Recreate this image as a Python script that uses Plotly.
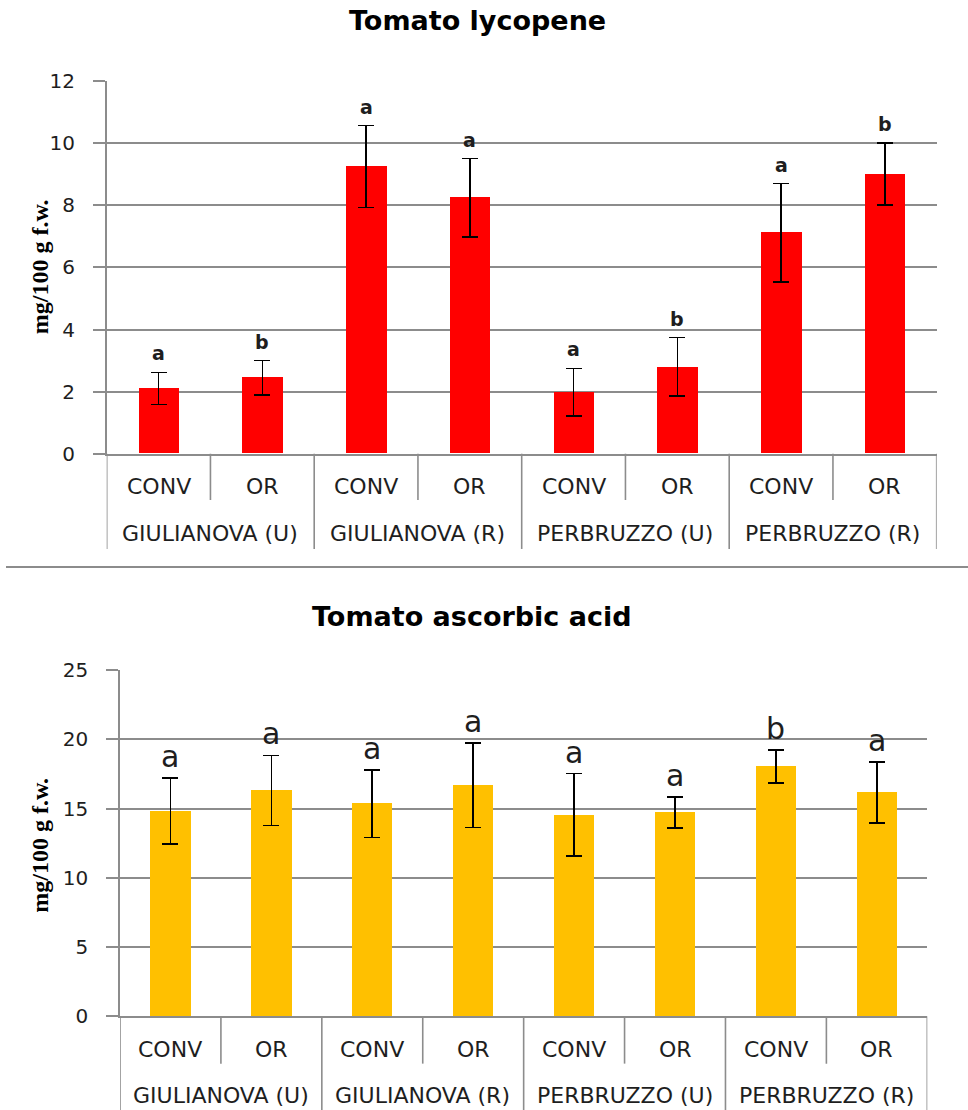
import plotly.graph_objects as go

W, H = 968, 1110

groups = ["GIULIANOVA (U)", "GIULIANOVA (R)", "PERBRUZZO (U)", "PERBRUZZO (R)"]
treatments = ["CONV", "OR"]

lyc_mean = [2.10, 2.45, 9.25, 8.25, 1.98, 2.80, 7.12, 9.01]
lyc_err = [0.52, 0.55, 1.32, 1.26, 0.77, 0.94, 1.58, 1.00]
lyc_letters = ["a", "b", "a", "a", "a", "b", "a", "b"]

asc_mean = [14.84, 16.31, 15.37, 16.70, 14.55, 14.72, 18.04, 16.16]
asc_err = [2.38, 2.53, 2.44, 3.05, 2.98, 1.12, 1.18, 2.20]
asc_letters = ["a", "a", "a", "a", "a", "a", "b", "a"]

cats = [f"{g}|{t}" for g in groups for t in treatments]

GRID = "#8c8c8c"
TXT = "#1e1e1e"
TICKFONT = dict(family="DejaVu Sans", size=20, color=TXT)
CATFONT = dict(family="DejaVu Sans", size=22, color=TXT)

# the page photograph maps layout pixel p to about 11.7 + 0.979 * p vertically
Y_OFF, Y_SCALE = 11.7, 0.979


def py(px):
    lp = (px - Y_OFF) / Y_SCALE
    return 1 - lp / H


panels = [
    dict(title="Tomato lycopene", title_x=477, title_y=20, mean=lyc_mean, err=lyc_err, letters=lyc_letters,
         color="#FF0000", left=106.7, right=936.7, top=81, bottom=453.7, yr=[0, 12], dtick=2,
         letter_font=dict(family="DejaVu Sans", size=19, color=TXT, weight="bold"), lshift=6,
         inner_end=500, outer_end=549, inner_lab=487, outer_lab=534, bw=0.39, ax="", ytitle=267),
    dict(title="Tomato ascorbic acid", title_x=472, title_y=617, mean=asc_mean, err=asc_err, letters=asc_letters,
         color="#FFC000", left=120, right=927.3, top=670.3, bottom=1016.7, yr=[0, 25], dtick=5,
         letter_font=dict(family="DejaVu Sans", size=30, color=TXT), lshift=2,
         inner_end=1064, outer_end=1112, inner_lab=1050, outer_lab=1096, bw=0.40, ax="2", ytitle=846),
]

fig = go.Figure()
annotations = []
shapes = []

for p in panels:
    xa = "x" + p["ax"]
    ya = "y" + p["ax"]
    fig.add_trace(go.Bar(
        x=cats, y=p["mean"], width=p["bw"], marker=dict(color=p["color"], line=dict(width=0)),
        error_y=dict(type="data", array=p["err"], color="black", thickness=1.6, width=8),
        xaxis=xa, yaxis=ya, showlegend=False, hoverinfo="skip",
    ))
    xdom = [p["left"] / W, p["right"] / W]
    ydom = [py(p["bottom"]), py(p["top"])]
    fig.update_layout(**{
        "xaxis" + p["ax"]: dict(domain=xdom, anchor=ya, type="category", categoryorder="array",
                                categoryarray=cats, range=[-0.5, len(cats) - 0.5],
                                showticklabels=False, ticks="", showgrid=False, zeroline=False,
                                showline=True, linecolor=GRID, linewidth=1.6, fixedrange=True),
        "yaxis" + p["ax"]: dict(domain=ydom, anchor=xa, range=p["yr"], dtick=p["dtick"],
                                showgrid=True, gridcolor=GRID, gridwidth=1.6, zeroline=False,
                                showline=True, linecolor=GRID, linewidth=1.6,
                                ticks="outside", ticklen=12, tickcolor=GRID, tickwidth=1.6,
                                tickfont=TICKFONT, ticklabelstandoff=14, fixedrange=True),
    })
    # significance letters
    for c, m, e, l in zip(cats, p["mean"], p["err"], p["letters"]):
        annotations.append(dict(x=c, y=m + e, xref=xa, yref=ya, text=l, showarrow=False,
                                yanchor="bottom", yshift=p["lshift"], font=p["letter_font"]))
    # category labels and separators
    n = len(cats)
    for i, t in enumerate(treatments * len(groups)):
        annotations.append(dict(x=i, y=py(p["inner_lab"]), xref=xa, yref="paper", text=t,
                                showarrow=False, xanchor="center", yanchor="middle", font=CATFONT))
    for gi, g in enumerate(groups):
        annotations.append(dict(x=gi * 2 + 0.5, y=py(p["outer_lab"]), xref=xa, yref="paper", text=g,
                                showarrow=False, xanchor="center", yanchor="middle", font=CATFONT))
    for b in range(n + 1):
        xb = b - 0.5
        end = p["outer_end"] if b % 2 == 0 else p["inner_end"]
        shapes.append(dict(type="line", xref=xa, yref="paper", x0=xb, x1=xb,
                           y0=py(p["bottom"]), y1=py(end), line=dict(color=GRID, width=1.6)))
    # y axis title
    annotations.append(dict(x=40 / W, y=py(p["ytitle"]), xref="paper", yref="paper",
                            xanchor="center", yanchor="middle",
                            text="<b>mg/100 g f.w.</b>", textangle=-90, showarrow=False,
                            font=dict(family="Liberation Serif", size=24, color="black")))
    # chart title
    annotations.append(dict(x=p["title_x"] / W, y=py(p["title_y"]), xref="paper",
                            yref="paper", text="<b>" + p["title"] + "</b>", showarrow=False,
                            xanchor="center", yanchor="middle",
                            font=dict(family="DejaVu Sans", size=27, color="black")))

# separator between the two charts
shapes.append(dict(type="line", xref="paper", yref="paper", x0=6 / W, x1=1, y0=py(567), y1=py(567),
                   line=dict(color=GRID, width=2)))

fig.update_layout(width=W, height=H, margin=dict(l=0, r=0, t=0, b=0),
                  paper_bgcolor="white", plot_bgcolor="white", bargap=0,
                  annotations=annotations, shapes=shapes)

fig.write_html("out.html", config={"displayModeBar": False},
               post_script="document.body.style.margin='0';document.body.style.padding='0';"
                           "document.documentElement.style.overflow='hidden';")
